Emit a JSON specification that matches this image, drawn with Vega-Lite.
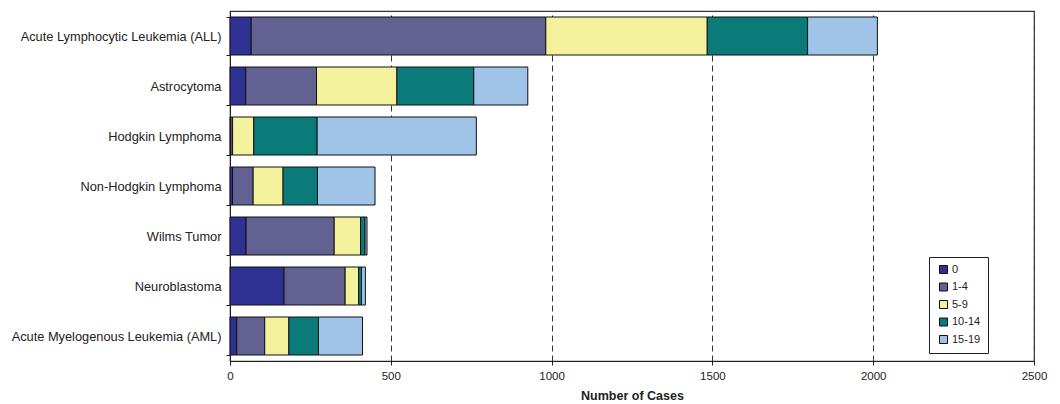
{
  "$schema": "https://vega.github.io/schema/vega-lite/v6.json",
  "width": 804,
  "height": 350,
  "autosize": {"type": "none"},
  "padding": {"left": 230, "top": 11, "right": 26, "bottom": 43},
  "background": "white",
  "config": {
    "font": "Liberation Sans",
    "view": {"stroke": "#333333", "strokeWidth": 1.2}
  },
  "data": {
    "values": [
      {"cancer": "Acute Lymphocytic Leukemia (ALL)", "age": "0", "ord": 0, "cases": 66},
      {"cancer": "Acute Lymphocytic Leukemia (ALL)", "age": "1-4", "ord": 1, "cases": 916},
      {"cancer": "Acute Lymphocytic Leukemia (ALL)", "age": "5-9", "ord": 2, "cases": 502},
      {"cancer": "Acute Lymphocytic Leukemia (ALL)", "age": "10-14", "ord": 3, "cases": 312},
      {"cancer": "Acute Lymphocytic Leukemia (ALL)", "age": "15-19", "ord": 4, "cases": 217},
      {"cancer": "Astrocytoma", "age": "0", "ord": 0, "cases": 49},
      {"cancer": "Astrocytoma", "age": "1-4", "ord": 1, "cases": 220},
      {"cancer": "Astrocytoma", "age": "5-9", "ord": 2, "cases": 250},
      {"cancer": "Astrocytoma", "age": "10-14", "ord": 3, "cases": 239},
      {"cancer": "Astrocytoma", "age": "15-19", "ord": 4, "cases": 168},
      {"cancer": "Hodgkin Lymphoma", "age": "0", "ord": 0, "cases": 2},
      {"cancer": "Hodgkin Lymphoma", "age": "1-4", "ord": 1, "cases": 6},
      {"cancer": "Hodgkin Lymphoma", "age": "5-9", "ord": 2, "cases": 66},
      {"cancer": "Hodgkin Lymphoma", "age": "10-14", "ord": 3, "cases": 197},
      {"cancer": "Hodgkin Lymphoma", "age": "15-19", "ord": 4, "cases": 495},
      {"cancer": "Non-Hodgkin Lymphoma", "age": "0", "ord": 0, "cases": 8},
      {"cancer": "Non-Hodgkin Lymphoma", "age": "1-4", "ord": 1, "cases": 64},
      {"cancer": "Non-Hodgkin Lymphoma", "age": "5-9", "ord": 2, "cases": 93},
      {"cancer": "Non-Hodgkin Lymphoma", "age": "10-14", "ord": 3, "cases": 107},
      {"cancer": "Non-Hodgkin Lymphoma", "age": "15-19", "ord": 4, "cases": 179},
      {"cancer": "Wilms Tumor", "age": "0", "ord": 0, "cases": 50},
      {"cancer": "Wilms Tumor", "age": "1-4", "ord": 1, "cases": 274},
      {"cancer": "Wilms Tumor", "age": "5-9", "ord": 2, "cases": 82},
      {"cancer": "Wilms Tumor", "age": "10-14", "ord": 3, "cases": 14},
      {"cancer": "Wilms Tumor", "age": "15-19", "ord": 4, "cases": 6},
      {"cancer": "Neuroblastoma", "age": "0", "ord": 0, "cases": 168},
      {"cancer": "Neuroblastoma", "age": "1-4", "ord": 1, "cases": 190},
      {"cancer": "Neuroblastoma", "age": "5-9", "ord": 2, "cases": 42},
      {"cancer": "Neuroblastoma", "age": "10-14", "ord": 3, "cases": 9},
      {"cancer": "Neuroblastoma", "age": "15-19", "ord": 4, "cases": 12},
      {"cancer": "Acute Myelogenous Leukemia (AML)", "age": "0", "ord": 0, "cases": 21},
      {"cancer": "Acute Myelogenous Leukemia (AML)", "age": "1-4", "ord": 1, "cases": 87},
      {"cancer": "Acute Myelogenous Leukemia (AML)", "age": "5-9", "ord": 2, "cases": 75},
      {"cancer": "Acute Myelogenous Leukemia (AML)", "age": "10-14", "ord": 3, "cases": 92},
      {"cancer": "Acute Myelogenous Leukemia (AML)", "age": "15-19", "ord": 4, "cases": 137}
    ]
  },
  "mark": {"type": "bar", "stroke": "#111111", "strokeWidth": 1},
  "encoding": {
    "y": {
      "field": "cancer",
      "type": "nominal",
      "sort": ["Acute Lymphocytic Leukemia (ALL)", "Astrocytoma", "Hodgkin Lymphoma", "Non-Hodgkin Lymphoma", "Wilms Tumor", "Neuroblastoma", "Acute Myelogenous Leukemia (AML)"],
      "scale": {"paddingInner": 0.24, "paddingOuter": 0.12},
      "axis": {
        "title": null,
        "labelFontSize": 12.8,
        "labelColor": "#222222",
        "labelPadding": 5,
        "domainColor": "#222222",
        "tickColor": "#222222",
        "tickBand": "extent",
        "tickSize": 4,
        "grid": false,
        "labelLimit": 240
      }
    },
    "x": {
      "field": "cases",
      "type": "quantitative",
      "stack": "zero",
      "scale": {"domain": [0, 2500], "nice": false},
      "axis": {
        "title": "Number of Cases",
        "titleFontSize": 12.5,
        "titleFontWeight": "bold",
        "titleColor": "#222222",
        "titlePadding": 8,
        "values": [0, 500, 1000, 1500, 2000, 2500],
        "format": "d",
        "labelFlush": false,
        "labelFontSize": 11.5,
        "labelColor": "#222222",
        "labelPadding": 5,
        "domainColor": "#222222",
        "tickColor": "#222222",
        "tickSize": 4,
        "grid": true,
        "gridColor": "#333333",
        "gridDash": [6, 4],
        "gridWidth": 1
      }
    },
    "color": {
      "field": "age",
      "type": "nominal",
      "sort": ["0", "1-4", "5-9", "10-14", "15-19"],
      "scale": {
        "domain": ["0", "1-4", "5-9", "10-14", "15-19"],
        "range": ["#2E3192", "#636192", "#F3F19B", "#0B7B7A", "#9FC4E7"]
      },
      "legend": {
        "title": null,
        "orient": "none",
        "legendX": 699,
        "legendY": 246,
        "symbolType": "square",
        "symbolSize": 64,
        "symbolStrokeColor": "#111111",
        "symbolStrokeWidth": 1,
        "symbolOpacity": 1,
        "labelFontSize": 11,
        "labelColor": "#222222",
        "labelOffset": 3,
        "rowPadding": 4.5,
        "strokeColor": "#222222",
        "fillColor": "white",
        "padding": 7,
        "symbolOffset": 2
      }
    },
    "order": {"field": "ord", "type": "quantitative"}
  }
}
